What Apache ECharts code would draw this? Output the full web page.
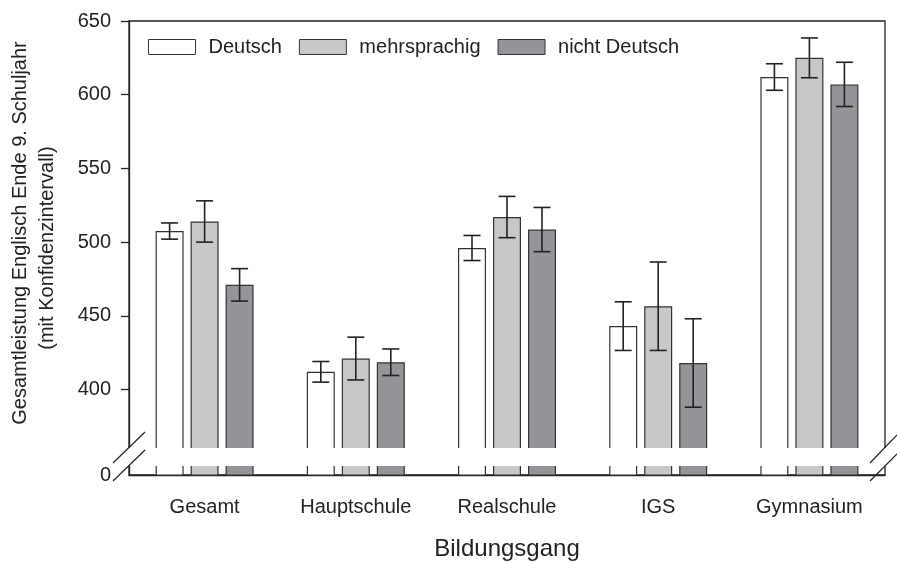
<!DOCTYPE html>
<html>
<head>
<meta charset="utf-8">
<script src="https://cdn.jsdelivr.net/npm/echarts@6/dist/echarts.min.js"></script>
<style>
  html, body { margin: 0; padding: 0; background: #fff; }
  #main { width: 897px; height: 563px; }
</style>
</head>
<body>
<div id="main"></div>
<script>
// Bildungsgang
const categories = ['Gesamt', 'Hauptschule', 'Realschule', 'IGS', 'Gymnasium']
const seriesNames = ['Deutsch', 'mehrsprachig', 'nicht Deutsch']
// Mittelwerte
const deutsch = [507.5, 412, 496, 443, 612]
const mehrsprachig = [514, 421, 517, 456.5, 625]
const nichtDeutsch = [471, 418.5, 508.5, 418, 607]
// halbe Breite Konfidenzintervall
const deutschCI = [5.5, 7, 8.5, 16.5, 9]
const mehrsprachigCI = [14, 14.5, 14, 30, 13.5]
const nichtDeutschCI = [11, 9, 15, 30, 15]
// Achse (unterbrochen: 0 unten, dann 400..650)
const yTicks = [400, 450, 500, 550, 600, 650]
const yBottom = 342 // wird als "0" beschriftet

const font = 'Liberation Sans, Arial, sans-serif'
const ink = '#222'
const fills = ['#ffffff', '#c7c8ca', '#939598']
const means = [deutsch, mehrsprachig, nichtDeutsch]
const cis = [deutschCI, mehrsprachigCI, nichtDeutschCI]

const barW = 28
const barGap = 7

let myChart = echarts.init(document.getElementById('main'))

// Fehlerbalken als custom series
function errorSeries (k) {
  return {
    type: 'custom',
    name: seriesNames[k] + '_ci',
    z: 5,
    data: categories.map((c, i) => [i, means[k][i] - cis[k][i], means[k][i] + cis[k][i]]),
    renderItem: (params, api) => {
      let off = (k - 1) * (barW + barGap)
      let lo = api.coord([api.value(0), api.value(1)])
      let hi = api.coord([api.value(0), api.value(2)])
      let x = lo[0] + off
      let cap = 8.5
      let st = { stroke: ink, lineWidth: 1.6 }
      return {
        type: 'group',
        children: [
          { type: 'line', shape: { x1: x, y1: lo[1], x2: x, y2: hi[1] }, style: st },
          { type: 'line', shape: { x1: x - cap, y1: lo[1], x2: x + cap, y2: lo[1] }, style: st },
          { type: 'line', shape: { x1: x - cap, y1: hi[1], x2: x + cap, y2: hi[1] }, style: st }
        ]
      }
    }
  }
}

let option = {
  animation: false,
  backgroundColor: '#fff',
  legend: {
    data: seriesNames.map(n => ({ name: n, icon: 'rect' })),
    left: 148,
    top: 37,
    padding: 0,
    itemWidth: 47,
    itemHeight: 15,
    itemGap: 17,
    itemStyle: { borderWidth: 1 },
    textStyle: { fontFamily: font, fontSize: 20, color: ink, padding: [0, 0, 0, 8] }
  },
  grid: {
    left: 129,
    right: 12,
    top: 21,
    bottom: 88,
    outerBoundsMode: 'none',
    containLabel: false,
    show: true,
    borderColor: ink,
    borderWidth: 1.3
  },
  xAxis: {
    type: 'category',
    data: categories,
    name: 'Bildungsgang',
    nameLocation: 'middle',
    nameGap: 62,
    nameTextStyle: { fontFamily: font, fontSize: 24, color: ink },
    axisLine: { lineStyle: { color: ink, width: 1.3 } },
    axisTick: { alignWithLabel: true, length: 8, lineStyle: { color: ink, width: 1.3 } },
    axisLabel: { fontFamily: font, fontSize: 20, color: ink, margin: 22 }
  },
  yAxis: {
    type: 'value',
    min: yBottom,
    max: 650,
    splitLine: { show: false },
    axisLine: { show: true, lineStyle: { color: ink, width: 1.3 } },
    axisTick: { show: true, length: 8, customValues: yTicks, lineStyle: { color: ink, width: 1.3 } },
    axisLabel: {
      fontFamily: font, fontSize: 20, color: ink, margin: 18,
      customValues: [yBottom].concat(yTicks),
      formatter: v => (v === yBottom ? '0' : String(v))
    }
  },
  series: seriesNames.map((n, k) => ({
    name: n,
    type: 'bar',
    barWidth: barW,
    barGap: (barGap / barW * 100) + '%',
    data: means[k],
    itemStyle: { color: fills[k], borderColor: '#333', borderWidth: 1.2 }
  })).concat([0, 1, 2].map(errorSeries)),
  graphic: [
    // Achsenunterbrechung
    { type: 'rect', z: 100, shape: { x: 121, y: 448, width: 771, height: 18 }, style: { fill: '#fff' } },
    { type: 'line', z: 101, shape: { x1: 113, y1: 463, x2: 145, y2: 432 }, style: { stroke: ink, lineWidth: 1.2 } },
    { type: 'line', z: 101, shape: { x1: 113, y1: 481, x2: 145, y2: 450 }, style: { stroke: ink, lineWidth: 1.2 } },
    { type: 'line', z: 101, shape: { x1: 870, y1: 463, x2: 897, y2: 435 }, style: { stroke: ink, lineWidth: 1.2 } },
    { type: 'line', z: 101, shape: { x1: 870, y1: 481, x2: 897, y2: 454 }, style: { stroke: ink, lineWidth: 1.2 } },
    // y-Achsentitel
    {
      type: 'text', z: 101, x: 20, y: 233, rotation: Math.PI / 2,
      style: { text: 'Gesamtleistung Englisch Ende 9. Schuljahr', font: '20px ' + font, fill: ink, align: 'center', verticalAlign: 'middle' }
    },
    {
      type: 'text', z: 101, x: 47, y: 248, rotation: Math.PI / 2,
      style: { text: '(mit Konfidenzintervall)', font: '20px ' + font, fill: ink, align: 'center', verticalAlign: 'middle' }
    }
  ]
}
myChart.setOption(option, true)
</script>
</body>
</html>
